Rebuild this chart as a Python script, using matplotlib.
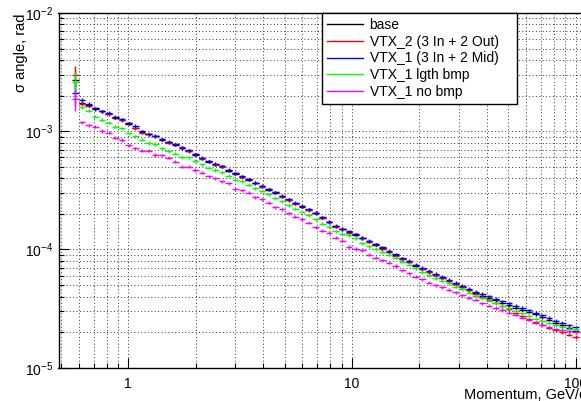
import numpy as np
import matplotlib
matplotlib.use('Agg')
import matplotlib.pyplot as plt
from matplotlib.lines import Line2D
from matplotlib.ticker import LogLocator, NullFormatter

plt.rcParams['font.family'] = ['Liberation Sans', 'DejaVu Sans']
plt.rcParams['mathtext.fontset'] = 'custom'
plt.rcParams['mathtext.rm'] = 'Liberation Sans'
plt.rcParams['mathtext.default'] = 'regular'

# momentum binning (log bins, GeV/c)
n_bins = 76
p_lo, p_hi = 0.560, 103.5
edges = np.logspace(np.log10(p_lo), np.log10(p_hi), n_bins + 1)
centers = np.sqrt(edges[:-1] * edges[1:])

# sigma angle per bin, micro-rad
sigma_base = [2710, 1740, 1660, 1540, 1470, 1410, 1300, 1250, 1160, 1070,
              990, 940, 910, 850, 805, 770, 722, 684, 633, 592,
              552, 527, 505, 462, 437, 412, 390, 364, 343, 321,
              301, 283, 262, 246, 229, 216, 202, 186, 170, 157,
              148, 140, 133, 124, 117, 110, 102, 95.5, 89.5, 83.0,
              78.5, 73.0, 68.5, 64.5, 61.0, 57.5, 54.5, 51.0, 48.5, 45.0,
              42.7, 40.6, 39.0, 37.2, 35.4, 33.8, 32.2, 30.9, 29.7, 28.2,
              26.8, 25.4, 24.1, 22.9, 21.7, 20.4]
sigma_vtx2 = [2990, 1700, 1650, 1560, 1480, 1390, 1320, 1240, 1170, 1060,
              975, 948, 905, 858, 800, 775, 730, 680, 640, 588,
              556, 522, 500, 468, 440, 409, 392, 367, 340, 323,
              304, 280, 264, 244, 231, 214, 204, 185, 172, 156,
              149, 139, 134, 125, 116, 111, 101, 96.0, 88.5, 83.5,
              78.0, 73.5, 68.0, 65.0, 60.5, 57.0, 54.0, 51.5, 48.5, 45.0,
              42.0, 40.0, 37.5, 35.5, 33.2, 31.2, 29.0, 27.2, 25.6, 24.2,
              23.0, 21.8, 20.8, 20.0, 19.0, 18.2]
sigma_vtx1_mid = [2120, 1840, 1700, 1570, 1480, 1430, 1310, 1260, 1170, 1110,
                  1000, 945, 915, 855, 812, 775, 726, 690, 636, 595,
                  556, 530, 506, 470, 441, 418, 393, 367, 347, 323,
                  306, 285, 266, 248, 232, 218, 205, 188, 172, 159,
                  150, 143, 134, 126, 119, 111, 104, 97.0, 91.0, 84.5,
                  80.0, 74.5, 70.0, 66.0, 62.0, 58.5, 55.5, 52.5, 49.5, 46.5,
                  44.0, 42.0, 40.2, 38.4, 36.6, 35.0, 33.4, 32.0, 30.6, 29.2,
                  27.8, 26.4, 25.0, 24.0, 22.8, 21.9]
sigma_lgth = [2620, 1600, 1490, 1330, 1245, 1180, 1095, 1060, 960, 905,
              845, 795, 780, 716, 680, 645, 605, 600, 560, 525,
              492, 470, 448, 420, 390, 376, 352, 330, 310, 292,
              272, 256, 236, 222, 208, 195, 180, 165, 156, 142,
              136, 132, 124, 113, 106, 101, 94.5, 90.0, 85.0, 79.0,
              74.0, 69.5, 64.0, 60.5, 57.0, 54.5, 52.0, 48.5, 46.0, 43.0,
              40.5, 38.5, 36.8, 35.0, 33.2, 31.8, 30.4, 28.8, 27.6, 26.0,
              24.8, 23.8, 22.8, 22.0, 21.4, 21.1]
sigma_nobmp = [1860, 1190, 1127, 1092, 1005, 971, 881, 843, 764, 716,
               684, 683, 630, 628, 597, 552, 501, 500, 470, 446,
               418, 400, 379, 362, 324, 318, 302, 276, 265, 248,
               227, 218, 202, 189, 180, 168, 154, 144, 138, 126,
               119, 105, 101, 99.0, 90.0, 85.0, 81.0, 77.0, 72.5, 67.0,
               63.0, 59.0, 56.0, 52.5, 50.0, 47.8, 45.8, 43.5, 41.0, 39.0,
               37.5, 35.0, 33.4, 32.0, 30.8, 29.2, 28.0, 26.5, 25.4, 24.0,
               23.0, 22.0, 21.2, 20.8, 20.3, 20.0]

labels = ['base', 'VTX_2 (3 In + 2 Out)', 'VTX_1 (3 In + 2 Mid)',
          'VTX_1 lgth bmp', 'VTX_1 no bmp']
colors = ['#000000', '#ff0000', '#0000ff', '#00ff00', '#ff00ff']
rel_err = 0.03          # typical relative stat. error
rel_err_first = 0.2     # first bin has low statistics

fig = plt.figure(figsize=(5.81, 4.01), dpi=100, facecolor='white')
ax = fig.add_axes([58.5 / 581, 1 - 367.7 / 401, (581 - 58.5) / 581, (367.7 - 13) / 401])

xerr = [centers - edges[:-1], edges[1:] - centers]
series = [sigma_base, sigma_vtx2, sigma_vtx1_mid, sigma_lgth, sigma_nobmp]
for k, (vals, col) in enumerate(zip(series, colors)):
    y = np.array(vals) * 1e-6
    err = y * rel_err
    err[0] = y[0] * rel_err_first
    ax.errorbar(centers, y, xerr=xerr, yerr=err, fmt='none', ecolor=col,
                elinewidth=1.0, capsize=0, zorder=3 + k)

ax.set_xscale('log')
ax.set_yscale('log')
ax.set_xlim(0.4875, 105.6)
ax.set_ylim(1e-5, 1e-2)

ax.set_xticks([1, 10, 100])
ax.set_xticklabels(['1', '10', '100'])
ax.xaxis.set_minor_locator(LogLocator(base=10, subs=np.arange(2, 10)))
ax.xaxis.set_minor_formatter(NullFormatter())
ax.yaxis.set_major_locator(LogLocator(base=10, numticks=10))
ax.yaxis.set_minor_locator(LogLocator(base=10, subs=np.arange(2, 10), numticks=20))
ax.yaxis.set_minor_formatter(NullFormatter())

ax.tick_params(which='both', direction='in', top=False, right=False,
               labelsize=10, width=0.8, colors='black')
ax.tick_params(which='major', length=7)
ax.tick_params(which='minor', length=3.6)
ax.tick_params(axis='x', pad=7)
ax.tick_params(axis='y', pad=4)

ax.grid(True, which='both', color='#333333', linestyle=(0, (1, 2.5)), linewidth=0.7)
ax.set_axisbelow(True)
ax.spines['right'].set_visible(False)
for s in ['left', 'bottom', 'top']:
    ax.spines[s].set_linewidth(1.0)

ax.set_ylabel('σ angle, rad', fontsize=10.5, loc='top')
ax.yaxis.set_label_coords(-0.058, 1.0)
ax.set_xlabel('Momentum, GeV/c', fontsize=10.5, loc='right')
ax.xaxis.set_label_coords(1.0096, -0.057)

handles = [Line2D([], [], color=c, lw=1.0) for c in colors]
leg = fig.legend(handles, labels, loc='upper left',
                 bbox_to_anchor=(321.7 / 581, 1 - 101.7 / 401, (517 - 321.7) / 581, (101.7 - 13) / 401),
                 mode='expand', fontsize=10, frameon=True, fancybox=False,
                 edgecolor='black', framealpha=1, borderpad=0.35,
                 handlelength=2.6, handletextpad=0.5, labelspacing=0.2,
                 borderaxespad=0)
leg.get_frame().set_linewidth(1.0)
leg.set_zorder(20)

fig.savefig('out.png', dpi=100, facecolor='white')
